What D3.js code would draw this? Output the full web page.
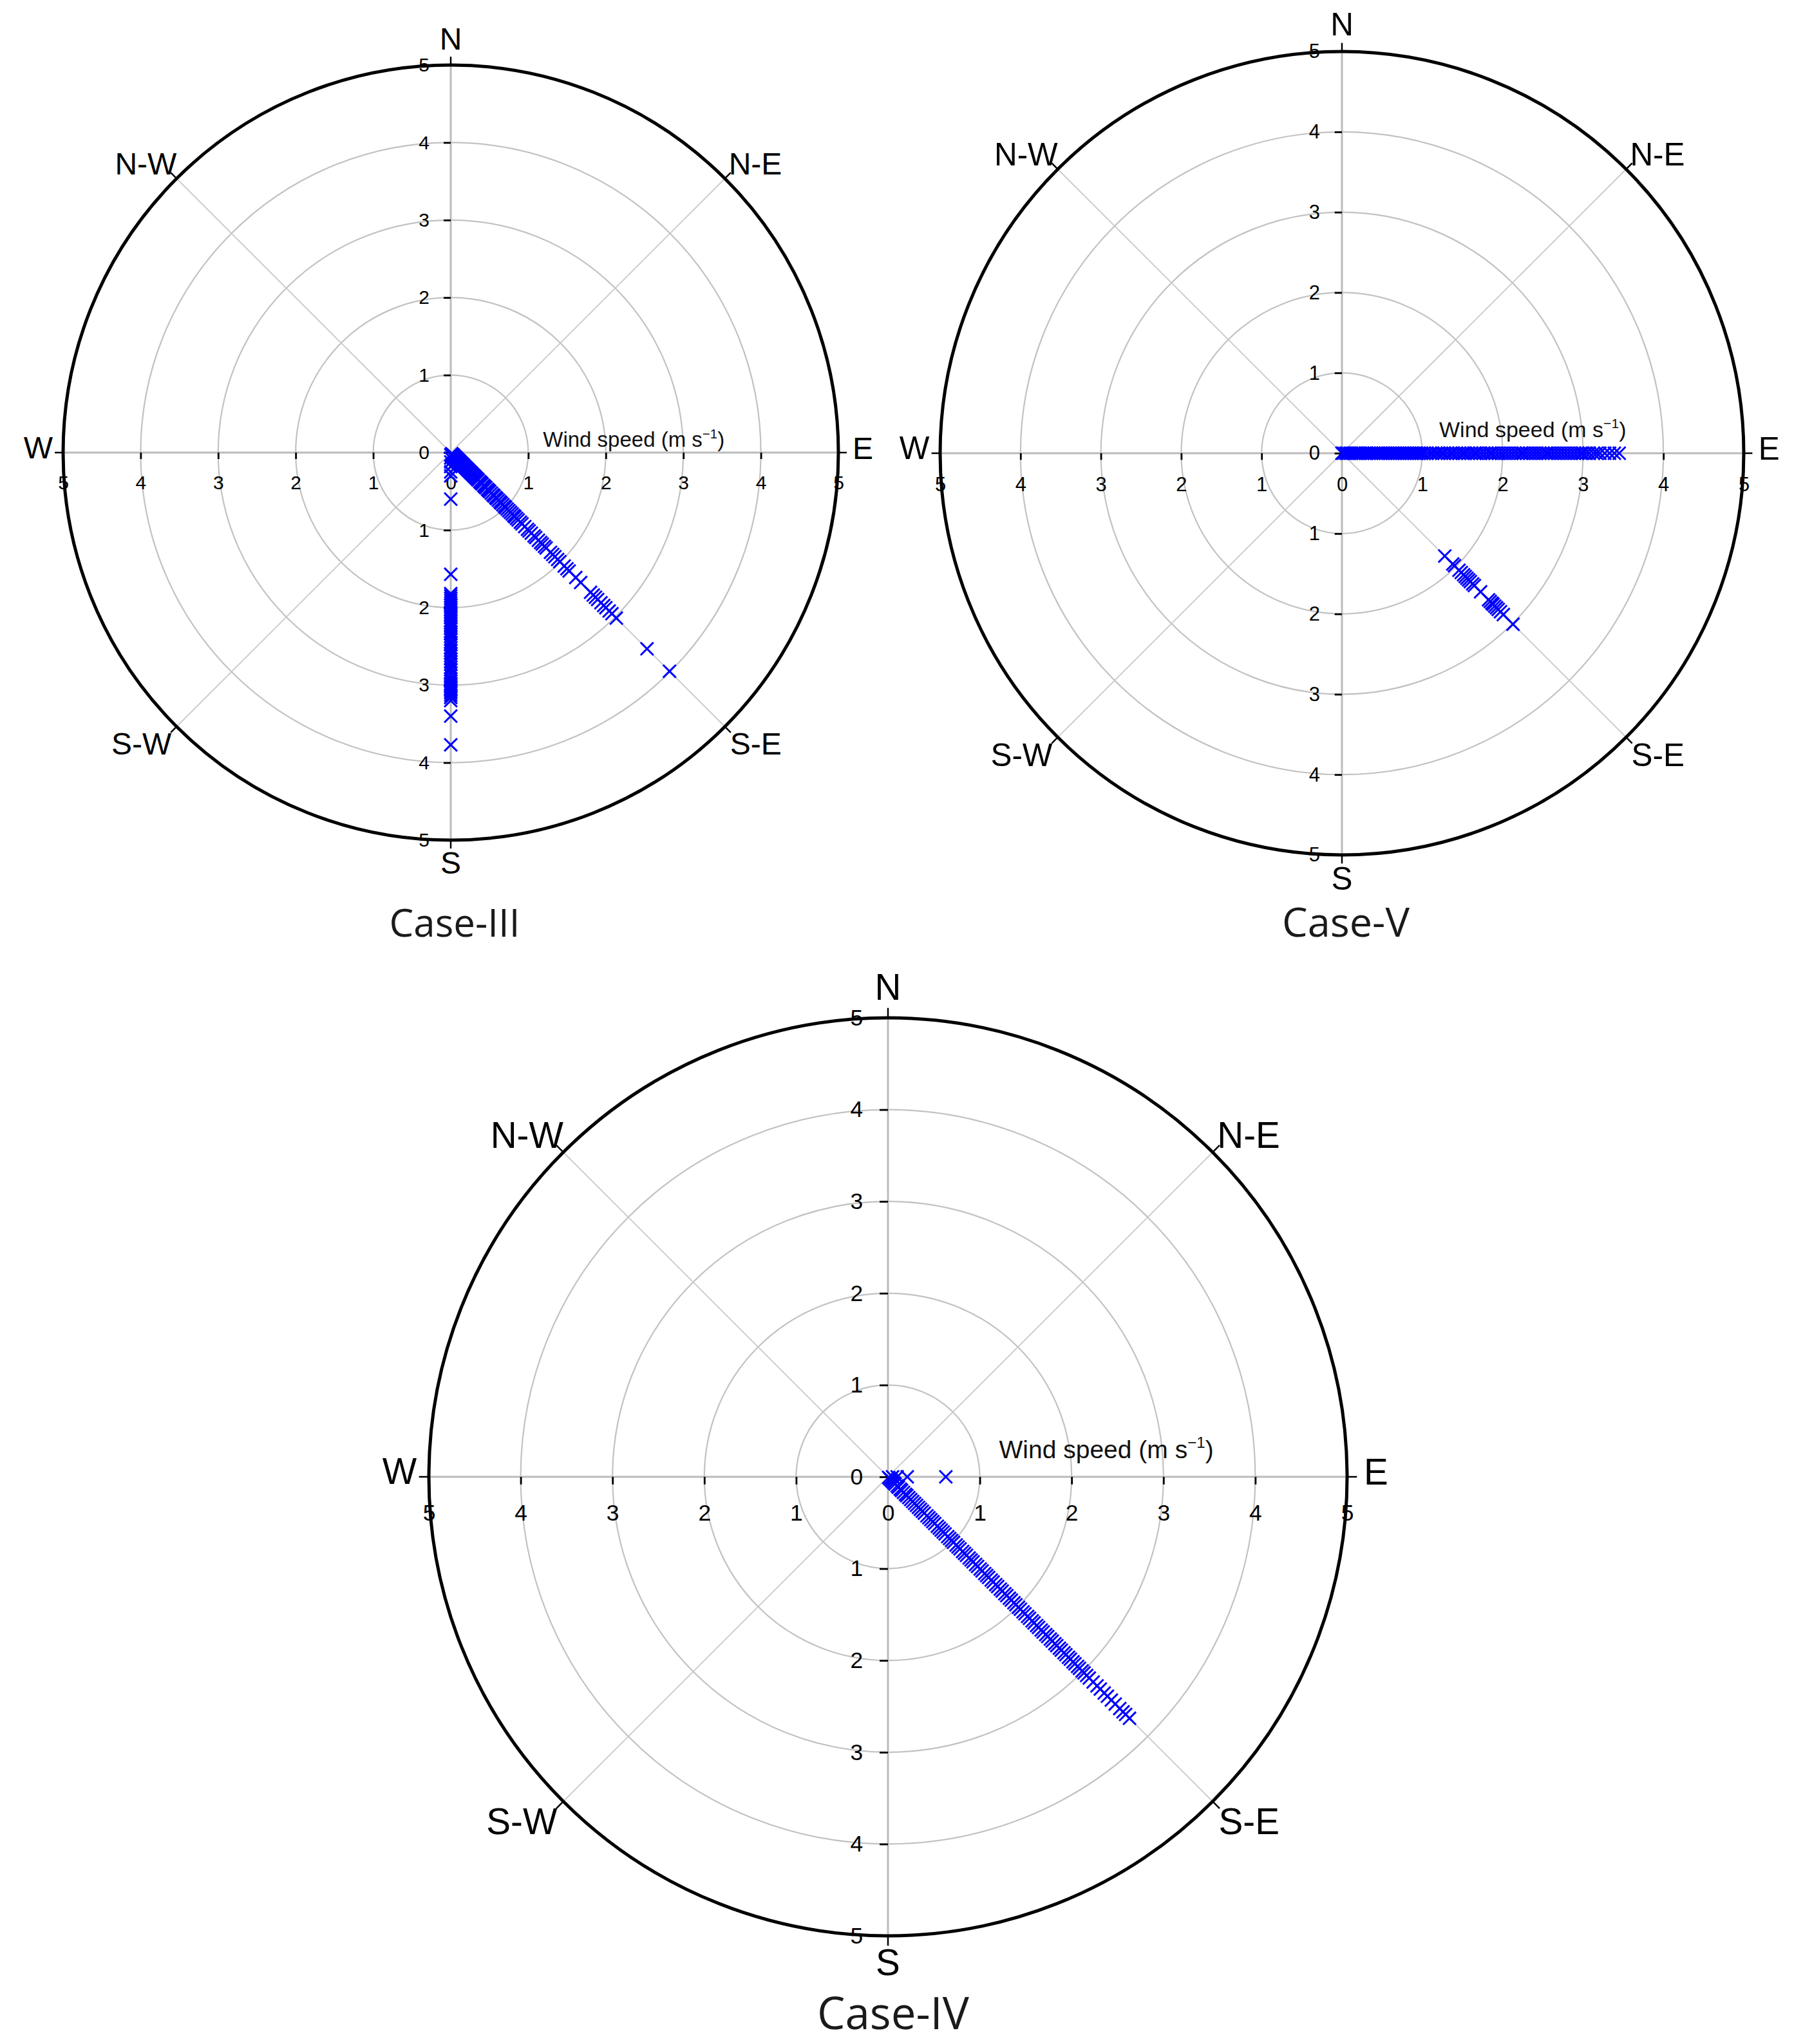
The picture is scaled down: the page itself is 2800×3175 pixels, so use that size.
<!DOCTYPE html>
<html>
<head>
<meta charset="utf-8">
<script src="https://cdn.jsdelivr.net/npm/d3@7"></script>
<style>
body{margin:0;background:#fff}
</style>
</head>
<body>
<svg id="chart"></svg>
<script>
// wind speed (m/s) along each compass direction
var compassNames=["N","N-E","E","S-E","S","S-W","W","N-W"];
var compassBearings=[0,45,90,135,180,225,270,315];
var speedTicks=[0,1,2,3,4,5];
var ringValues=[1,2,3,4];
var axisTicks=[-5,-4,-3,-2,-1,0,1,2,3,4,5];

var caseIII_SE=[0.02,0.04,0.05,0.07,0.09,0.1,0.12,0.14,0.15,0.17,0.19,0.21,0.22,0.24,0.26,0.28,0.3,0.32,0.34,0.36,0.38,0.4,0.42,0.44,0.46,0.48,0.5,0.53,0.55,0.57,0.6,0.62,0.64,0.67,0.69,0.71,0.74,0.77,0.79,0.82,0.84,0.87,0.9,0.92,0.95,0.98,1.0,1.03,1.06,1.09,1.12,1.15,1.17,1.2,1.23,1.27,1.3,1.35,1.4,1.43,1.47,1.52,1.55,1.6,1.64,1.67,1.71,1.74,1.82,1.86,1.9,1.95,1.99,2.07,2.12,2.16,2.28,2.37,2.55,2.6,2.64,2.68,2.74,2.79,2.83,2.89,2.94,3.02,3.58,3.99];
var caseIII_S=[0.03,0.07,0.12,0.18,0.25,0.3,0.6,1.57,1.82,1.85,1.88,1.91,1.94,1.97,2.0,2.03,2.07,2.1,2.13,2.17,2.2,2.24,2.27,2.31,2.34,2.37,2.41,2.45,2.48,2.52,2.55,2.59,2.62,2.66,2.7,2.73,2.77,2.8,2.84,2.88,2.92,2.95,2.98,3.0,3.02,3.04,3.06,3.08,3.1,3.13,3.16,3.2,3.4,3.77];

var caseV_E=[0.0,0.02,0.05,0.07,0.1,0.12,0.15,0.18,0.21,0.23,0.26,0.29,0.31,0.34,0.37,0.4,0.43,0.45,0.48,0.51,0.54,0.57,0.6,0.63,0.66,0.69,0.72,0.75,0.78,0.81,0.84,0.87,0.9,0.93,0.96,0.99,1.02,1.06,1.1,1.13,1.17,1.2,1.24,1.27,1.31,1.35,1.38,1.42,1.46,1.5,1.53,1.57,1.61,1.65,1.68,1.72,1.76,1.8,1.84,1.87,1.91,1.95,1.99,2.03,2.07,2.11,2.15,2.19,2.23,2.26,2.3,2.34,2.38,2.42,2.46,2.5,2.54,2.57,2.61,2.65,2.69,2.73,2.77,2.81,2.85,2.89,2.93,2.97,3.0,3.04,3.08,3.13,3.17,3.21,3.27,3.33,3.39,3.45];
var caseV_SE=[1.81,1.95,1.98,2.06,2.1,2.14,2.17,2.2,2.23,2.26,2.3,2.33,2.44,2.58,2.61,2.64,2.66,2.69,2.72,2.75,2.79,2.84,3.01];

var caseIV_SE=[0.01,0.03,0.05,0.07,0.09,0.11,0.14,0.16,0.19,0.21,0.24,0.27,0.29,0.32,0.35,0.38,0.41,0.44,0.47,0.5,0.53,0.56,0.6,0.63,0.66,0.69,0.72,0.76,0.79,0.82,0.85,0.88,0.92,0.95,0.98,1.01,1.05,1.08,1.11,1.15,1.18,1.21,1.25,1.28,1.31,1.35,1.38,1.42,1.45,1.49,1.52,1.55,1.59,1.62,1.66,1.69,1.73,1.76,1.8,1.83,1.87,1.9,1.94,1.97,2.01,2.04,2.08,2.11,2.15,2.18,2.22,2.25,2.29,2.32,2.36,2.39,2.43,2.46,2.5,2.53,2.57,2.6,2.64,2.67,2.71,2.74,2.78,2.81,2.85,2.88,2.92,2.95,2.99,3.02,3.06,3.1,3.16,3.22,3.27,3.33,3.38,3.44,3.5,3.57,3.62,3.66,3.72];
var caseIV_E=[0.05,0.1,0.21,0.63];

var W=2800,H=3175;
var svg=d3.select('#chart').attr('width',W).attr('height',H);
svg.append('rect').attr('width',W).attr('height',H).attr('fill','#fff');

var panels=[
  {title:'Case-III',cx:700,cy:703,R:602,k:1,tx:706,ty:1455,tsize:60,wsize:33,wu:1.19,wdy:-9,
   series:[{bearing:135,speeds:caseIII_SE},{bearing:180,speeds:caseIII_S}]},
  {title:'Case-V',cx:2084,cy:704,R:624,k:1.03,tx:2090,ty:1455,tsize:63,wsize:34,wu:1.21,wdy:-25,
   series:[{bearing:90,speeds:caseV_E},{bearing:135,speeds:caseV_SE}]},
  {title:'Case-IV',cx:1379,cy:2294,R:713,k:1.18,tx:1387,ty:3152,tsize:69,wsize:39,wu:1.21,wdy:-29,
   series:[{bearing:135,speeds:caseIV_SE},{bearing:90,speeds:caseIV_E}]}
];

var sans='"Liberation Sans", Arial, sans-serif';
var rad=d=>d*Math.PI/180;

function drawPanel(p){
  var k=p.k;
  var g=svg.append('g').attr('transform','translate('+p.cx+','+p.cy+')');
  var r=d3.scaleLinear().domain([0,5]).range([0,p.R]);
  var xs=d3.scaleLinear().domain([-5,5]).range([-p.R,p.R]);
  var ys=d3.scaleLinear().domain([5,-5]).range([-p.R,p.R]);

  // rings
  g.selectAll('circle.ring').data(ringValues).enter().append('circle')
    .attr('class','ring').attr('r',d=>r(d))
    .attr('fill','none').attr('stroke','#c2c2c2').attr('stroke-width',2.2);

  // diagonal spokes
  g.selectAll('line.diag').data([45,135,225,315]).enter().append('line')
    .attr('x1',0).attr('y1',0)
    .attr('x2',d=>r(5)*Math.sin(rad(d))).attr('y2',d=>-r(5)*Math.cos(rad(d)))
    .attr('stroke','#c8c8c8').attr('stroke-width',1.8);

  // main axes lines
  g.append('line').attr('x1',xs(-5)).attr('x2',xs(5)).attr('y1',0).attr('y2',0)
    .attr('stroke','#bbbbbb').attr('stroke-width',3);
  g.append('line').attr('y1',ys(5)).attr('y2',ys(-5)).attr('x1',0).attr('x2',0)
    .attr('stroke','#bbbbbb').attr('stroke-width',3);

  // outer circle
  g.append('circle').attr('r',r(5)).attr('fill','none').attr('stroke','#000').attr('stroke-width',5);

  // outward angular ticks
  g.selectAll('line.atick').data(compassBearings).enter().append('line')
    .attr('x1',d=>r(5)*Math.sin(rad(d))).attr('y1',d=>-r(5)*Math.cos(rad(d)))
    .attr('x2',d=>(r(5)+13*k)*Math.sin(rad(d))).attr('y2',d=>-(r(5)+13*k)*Math.cos(rad(d)))
    .attr('stroke','#000').attr('stroke-width',2.5);

  // radial axes (horizontal + vertical)
  var fmt=d=>Math.abs(d);
  var ax=g.append('g').call(d3.axisBottom(xs).tickValues(axisTicks).tickFormat(fmt).tickSize(10*k).tickPadding(26*k));
  var ay=g.append('g').call(d3.axisLeft(ys).tickValues(axisTicks).tickFormat(fmt).tickSize(11*k).tickPadding(22*k));
  [ax,ay].forEach(function(a){
    a.select('.domain').remove();
    a.attr('font-family',sans).attr('font-size',30*k);
    a.selectAll('.tick line').attr('stroke','#000').attr('stroke-width',2.8);
    a.selectAll('.tick text').attr('fill','#000');
  });

  // compass labels
  var R=r(5);
  var d45=R*Math.SQRT1_2;
  var lab=[
    {t:'N',x:0,y:-R-24*k,a:'middle'},
    {t:'S',x:0,y:R+52*k,a:'middle'},
    {t:'E',x:R+22*k,y:10*k,a:'start'},
    {t:'W',x:-R-16*k,y:9*k,a:'end'},
    {t:'N-E',x:d45+6*k,y:-d45-6*k,a:'start'},
    {t:'N-W',x:-d45,y:-d45-6*k,a:'end'},
    {t:'S-E',x:d45+8*k,y:d45+43*k,a:'start'},
    {t:'S-W',x:-d45-8*k,y:d45+43*k,a:'end'}
  ];
  g.selectAll('text.comp').data(lab).enter().append('text')
    .attr('x',d=>d.x).attr('y',d=>d.y).attr('text-anchor',d=>d.a)
    .attr('font-family',sans).attr('font-size',48*k).attr('fill','#000')
    .text(d=>d.t);

  // wind speed label
  var wl=g.append('text').attr('x',r(p.wu)).attr('y',p.wdy)
    .attr('font-family',sans).attr('font-size',p.wsize).attr('fill','#111');
  wl.append('tspan').text('Wind speed (m s');
  wl.append('tspan').attr('dy',-p.wsize*0.4).attr('font-size',p.wsize*0.62).text('\u22121');
  wl.append('tspan').attr('dy',p.wsize*0.4).text(')');

  // markers
  var sym=d3.symbol().type(d3.symbolTimes||d3.symbolCross).size(260);
  p.series.forEach(function(s){
    g.selectAll(null).data(s.speeds).enter().append('path')
      .attr('d',sym)
      .attr('transform',d=>'translate('+(r(d)*Math.sin(rad(s.bearing)))+','+(-r(d)*Math.cos(rad(s.bearing)))+')')
      .attr('fill','none').attr('stroke','#0000ff').attr('stroke-width',3);
  });

  // title
  svg.append('text').attr('x',p.tx).attr('y',p.ty).attr('text-anchor','middle')
    .attr('font-family','"Open Sans", "Noto Sans", sans-serif').attr('font-size',p.tsize)
    .attr('fill','#1a1a1a').text(p.title);
}

panels.forEach(drawPanel);
</script>
</body>
</html>
